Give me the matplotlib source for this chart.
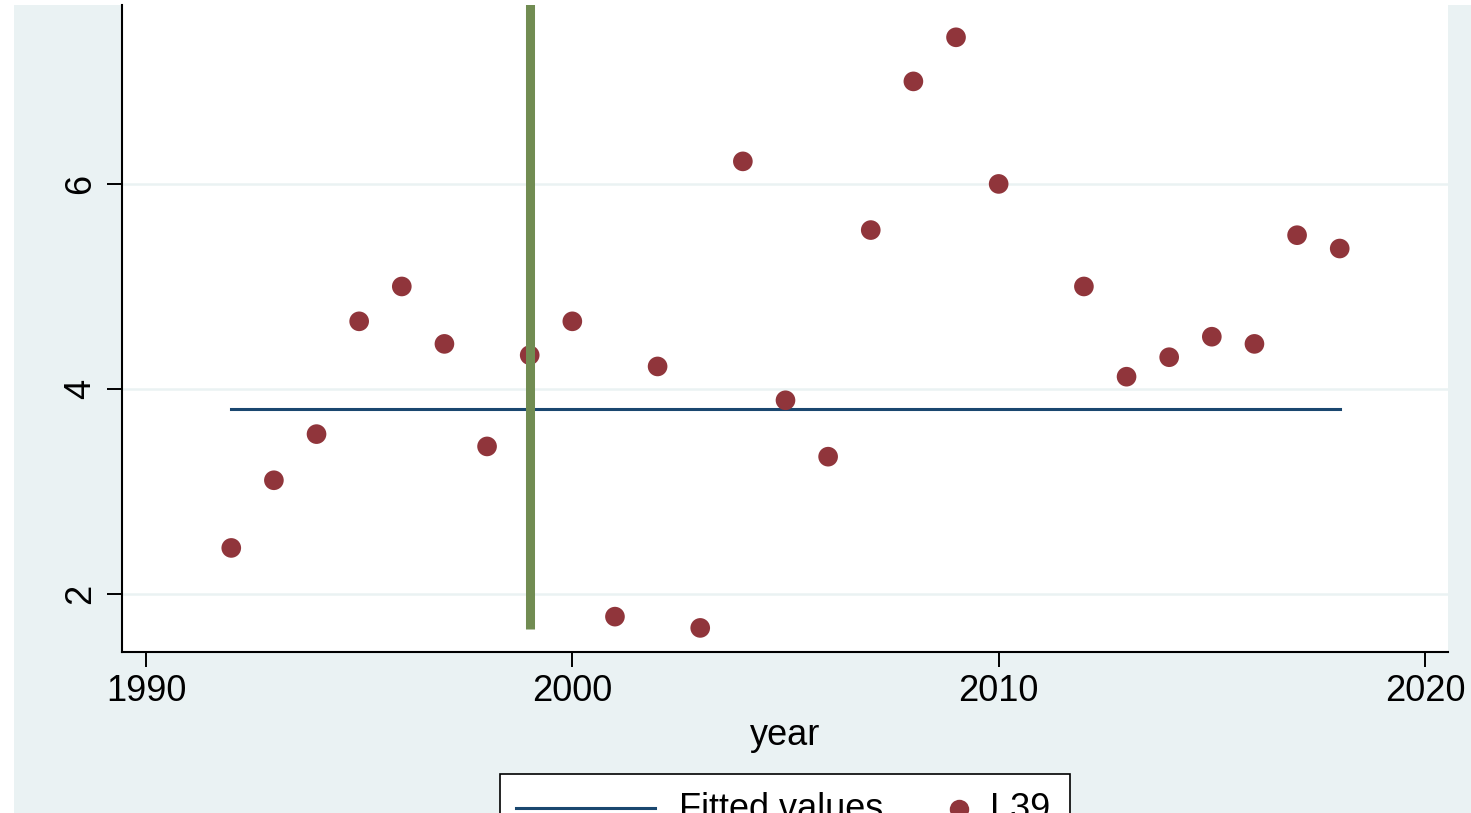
import matplotlib
matplotlib.use("Agg")
import matplotlib.pyplot as plt
from matplotlib.patches import Rectangle
from matplotlib.lines import Line2D

plt.rcParams['font.family'] = ['Liberation Sans', 'DejaVu Sans']

# data
years = [1992, 1993, 1994, 1995, 1996, 1997, 1998, 1999, 2000, 2001, 2002, 2003, 2004,
         2005, 2006, 2007, 2008, 2009, 2010, 2012, 2013, 2014, 2015, 2016, 2017, 2018]
l39 = [2.45, 3.11, 3.56, 4.66, 5.00, 4.44, 3.44, 4.33, 4.66, 1.78, 4.22, 1.67, 6.22,
       3.89, 3.34, 5.55, 7.00, 7.43, 6.00, 5.00, 4.12, 4.31, 4.51, 4.44, 5.50, 5.37]
fit_years = [1992, 2018]
fit_values = [3.805, 3.805]
xline_year = 1999
xline_bottom = 1.662
x_ticks = [1990, 2000, 2010, 2020]
y_ticks = [2, 4, 6]

W, H = 1471, 813
fig = plt.figure(figsize=(W / 100, H / 100), dpi=100, facecolor='white')

def fx(px):
    return px / W

def fy(py):
    return 1 - py / H

# Stata-like outer background
fig.patches.append(Rectangle((fx(14), 0), 1 - fx(14), fy(5), transform=fig.transFigure,
                             facecolor='#EAF2F3', edgecolor='none', zorder=-1))

ax = fig.add_axes([fx(121.7), fy(651.7), fx(1448) - fx(121.7), fy(5) - fy(651.7)])
ax.set_zorder(1)
ax.set_facecolor('white')

for yv in y_ticks:
    ax.axhline(yv, color='#EAF2F3', lw=1.8, zorder=1)

ax.plot(fit_years, fit_values, color='#1A476F', lw=2.2, zorder=2)
ax.scatter(years, l39, s=200, color='#90353B', edgecolors='none', zorder=3)
ax.vlines(xline_year, xline_bottom, 9, color='#718C52', lw=6.5, zorder=4)

ax.set_xlim(1989.43, 2020.54)
ax.set_ylim(1.438, 7.745)
ax.set_xticks(x_ticks)
ax.set_yticks(y_ticks)
ax.set_yticklabels([str(v) for v in y_ticks], rotation=90, va='center')

for s in ['top', 'right']:
    ax.spines[s].set_visible(False)
for s in ['left', 'bottom']:
    ax.spines[s].set_linewidth(1.5)
ax.tick_params(axis='both', length=10.8, width=1.4, labelsize=26, direction='out')
ax.tick_params(axis='x', pad=5)
ax.tick_params(axis='y', pad=6)
ax.set_xlabel('year', fontsize=26, labelpad=7)

# legend box (cropped at bottom of image)
fig.patches.append(Rectangle((fx(500), fy(840)), fx(1070) - fx(500), fy(774) - fy(840),
                             transform=fig.transFigure, facecolor='white',
                             edgecolor='black', lw=1.2, zorder=5))
fig.add_artist(Line2D([fx(516), fx(655)], [fy(808), fy(808)], transform=fig.transFigure,
                      color='#1A476F', lw=2.2, zorder=6))
fig.add_artist(Line2D([fx(959)], [fy(809)], transform=fig.transFigure, marker='o',
                      markersize=14, color='#90353B', markeredgecolor='none',
                      linestyle='none', zorder=6))
fig.text(fx(679), fy(819), 'Fitted values', fontsize=26, va='baseline', ha='left', zorder=6)
fig.text(fx(990), fy(819), 'L39', fontsize=26, va='baseline', ha='left', zorder=6)

fig.savefig('out.png', dpi=100, facecolor=fig.get_facecolor())
